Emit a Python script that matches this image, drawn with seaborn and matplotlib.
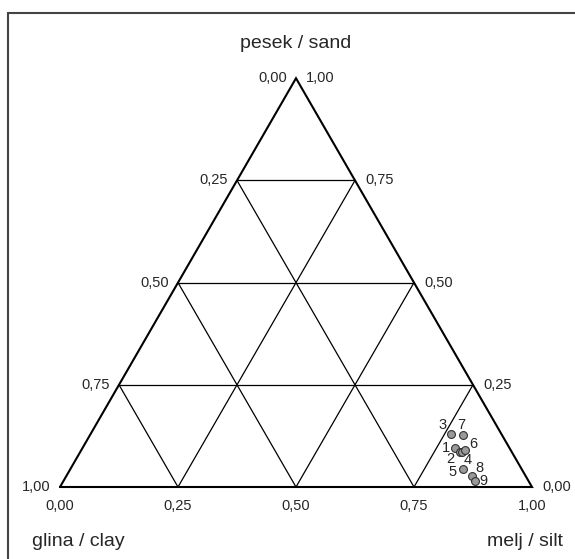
import numpy as np
import pandas as pd
import seaborn as sns
import matplotlib
matplotlib.use("Agg")
import matplotlib.pyplot as plt
from matplotlib.patches import Rectangle

# sample composition (fractions)
sample_ids = ["1", "2", "3", "4", "5", "6", "7", "8", "9"]
sand = [0.096, 0.086, 0.130, 0.085, 0.043, 0.090, 0.128, 0.027, 0.014]
silt = [0.789, 0.804, 0.763, 0.810, 0.832, 0.813, 0.789, 0.860, 0.872]
clay = [0.115, 0.110, 0.107, 0.105, 0.125, 0.097, 0.083, 0.113, 0.114]

tick_values = [0.0, 0.25, 0.5, 0.75, 1.0]
grid_values = [0.25, 0.5, 0.75]
title_sand = "pesek / sand"
title_clay = "glina / clay"
title_silt = "melj / silt"

sns.set_style("white")
plt.rcParams["font.family"] = ["Liberation Sans", "DejaVu Sans"]

H = np.sqrt(3) / 2
W_PX, H_PX = 575, 559
SCALE = 472.0  # pixels per unit side
X0, Y0 = 60.0, 487.0  # pixel location of the clay corner


def to_xy(sa, si):
    return si + sa / 2.0, sa * H


def fmt(v):
    return f"{v:.2f}".replace(".", ",")


df = pd.DataFrame({"id": sample_ids, "sand": sand, "silt": silt, "clay": clay})
df["x"], df["y"] = to_xy(df["sand"], df["silt"])

fig = plt.figure(figsize=(W_PX / 100, H_PX / 100), dpi=100)
ax = fig.add_axes([0, 0, 1, 1])
ax.set_xlim(-X0 / SCALE, (W_PX - X0) / SCALE)
ax.set_ylim(-(H_PX - Y0) / SCALE, Y0 / SCALE)
ax.axis("off")

# frame around the figure (cut at right and bottom like the original)
fig.patches.append(Rectangle((8 / W_PX, -0.2), 1.5, 1.2 - 13 / H_PX, transform=fig.transFigure,
                             fill=False, lw=1.5, ec="#444444"))

# grid lines
for v in grid_values:
    ax.plot([v / 2, 1 - v / 2], [v * H, v * H], color="black", lw=0.9)
    ax.plot([v, v + (1 - v) / 2], [0, (1 - v) * H], color="black", lw=0.9)
    ax.plot([1 - v, (1 - v) / 2], [0, (1 - v) * H], color="black", lw=0.9)

# triangle outline
ax.plot([0, 1, 0.5, 0], [0, 0, H, 0], color="black", lw=1.5, solid_joinstyle="miter")

px = 1 / SCALE
tick_fs = 10.5
for v in tick_values:
    # bottom: silt
    ax.text(v, -12 * px, fmt(v), ha="center", va="top", fontsize=tick_fs)
    # left: clay (value = 1 - sand)
    lx, ly = to_xy(v, 0)
    ax.text(lx - 9 * px, ly, fmt(1 - v), ha="right", va="center", fontsize=tick_fs)
    # right: sand
    rx, ry = to_xy(v, 1 - v)
    ax.text(rx + 10 * px, ry, fmt(v), ha="left", va="center", fontsize=tick_fs)

ax.text(0.5, (Y0 - 43) * px, title_sand, ha="center", va="center", fontsize=14)
ax.text(-28 * px, -(541 - Y0) * px, title_clay, ha="left", va="center", fontsize=14)
ax.text((563 - X0) * px, -(541 - Y0) * px, title_silt, ha="right", va="center", fontsize=14)

sns.scatterplot(data=df, x="x", y="y", ax=ax, s=32, color="#9a9a9a",
                edgecolor="#333333", linewidth=0.8, legend=False, zorder=5)

# label offsets in pixels (dx, dy up)
offsets = {"1": (-9, 0), "2": (-9, -7), "3": (-8, 9), "4": (5, -8), "5": (-10, -3),
           "6": (8, 6), "7": (-1, 10), "8": (7, 8), "9": (9, 0)}
for _, r in df.iterrows():
    dx, dy = offsets[r["id"]]
    ax.annotate(r["id"], (r["x"], r["y"]), xytext=(dx * 0.72, dy * 0.72),
                textcoords="offset points", ha="center", va="center", fontsize=10.5, zorder=6)

fig.savefig("out.png", dpi=100)
